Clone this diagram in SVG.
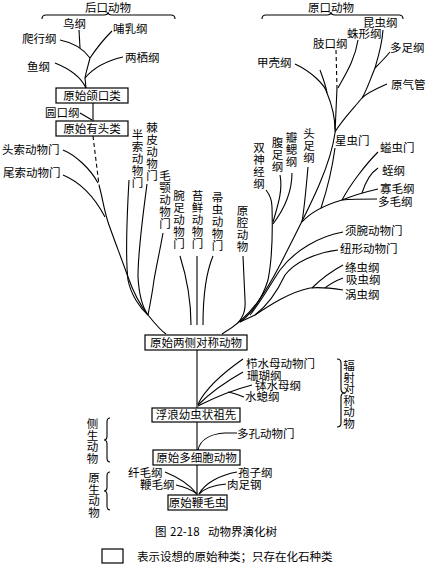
<svg xmlns="http://www.w3.org/2000/svg" width="434" height="566" viewBox="0 0 434 566">
<style>
.l{fill:none;stroke:#000;stroke-width:1.1}
.d{fill:none;stroke:#000;stroke-width:1.1;stroke-dasharray:4 3}
.t{font-family:"Noto Sans CJK SC","Noto Sans",sans-serif;font-size:11.5px;fill:#000}
.m{text-anchor:middle}
.b{fill:#fff;stroke:#000;stroke-width:1.2}
</style>
<rect width="434" height="566" fill="#fff"/>
<g id="connectors">
<path class="l" d="M42,19 Q42,15 46,15 L104,15 Q108,15 108,12 Q108,15 112,15 L171,15 Q175,15 175,19"/>
<path class="l" d="M262,19 Q262,15 266,15 L327,15 Q331,15 331,12 Q331,15 335,15 L399,15 Q403,15 403,19"/>
<path class="l" d="M337,359 Q341,359 341,363 L341,389 Q341,393 345,393 Q341,393 341,397 L341,423 Q341,427 337,427"/>
<path class="l" d="M110,418 Q107,418 107,422 L107,436 Q107,440 104,440 Q107,440 107,444 L107,458 Q107,462 110,462"/>
<path class="l" d="M110,472 Q107,472 107,476 L107,487 Q107,491 104,491 Q107,491 107,495 L107,506 Q107,510 110,510"/>
<path class="l" d="M79,30 L80,48"/>
<path class="l" d="M60,40 Q80,44 90,58"/>
<path class="l" d="M112,31 C105,38 98,46 90,58"/>
<path class="l" d="M90,58 C88,66 86,72 85,78 L86,88"/>
<path class="l" d="M123,57 C110,60 95,66 85,78"/>
<path class="l" d="M55,63 C65,67 80,75 86,88"/>
<path class="l" d="M93,103 L93,121"/>
<path class="l" d="M80,113 L92,120"/>
<path class="d" d="M93,136 L99,185"/>
<path class="l" d="M63,150 C75,155 90,168 98,183"/>
<path class="l" d="M63,175 C80,182 95,198 105,217"/>
<path class="l" d="M99,185 C103,200 104,210 108,222 S122,260 128,277 S140,305 148,315 S160,330 166,334"/>
<path class="l" d="M129,180 C127,215 125,255 128,280 C131,295 140,308 148,315"/>
<path class="l" d="M147,184 C143,215 138,250 138,277 C139,295 143,308 148,315"/>
<path class="l" d="M163,233 C160,250 156,268 154,280 C152,295 150,305 148,315"/>
<path class="l" d="M180,256 C186,275 191,300 191,325"/>
<path class="l" d="M197,256 L197,325"/>
<path class="l" d="M213,256 C205,275 203,300 203,325"/>
<path class="l" d="M383,30 C382,45 378,58 375,68"/>
<path class="l" d="M390,52 C385,58 380,63 375,68"/>
<path class="l" d="M375,68 C370,80 366,92 362,98 C352,110 342,120 335,132"/>
<path class="l" d="M387,84 C378,88 368,92 362,98"/>
<path class="l" d="M358,40 C355,60 345,75 338,88"/>
<path class="d" d="M336,50 L337,88"/>
<path class="l" d="M337,88 L335,133"/>
<path class="l" d="M295,64 C312,72 325,85 327,93 C332,105 335,118 335,130"/>
<path class="l" d="M320,70 C323,78 326,86 327,93"/>
<path class="l" d="M335,133 C330,170 305,215 285,255 S250,318 222,334"/>
<path class="l" d="M266,190 C270,195 272,200 272,207 C273,240 272,260 268,280 C262,300 250,315 240,322"/>
<path class="l" d="M280,175 C283,190 278,205 273,222"/>
<path class="l" d="M292,173 C292,195 282,212 273,224"/>
<path class="l" d="M308,167 C306,190 304,210 302,222"/>
<path class="l" d="M335,148 C332,170 327,190 321,208"/>
<path class="l" d="M378,152 C365,165 350,185 342,200"/>
<path class="l" d="M378,168 C372,172 366,180 362,193"/>
<path class="l" d="M378,189 C365,192 352,196 342,200"/>
<path class="l" d="M377,199 C365,199 352,199 342,200"/>
<path class="l" d="M342,200 C325,205 310,213 302,222"/>
<path class="l" d="M343,232 C320,236 295,250 280,270 C270,285 262,300 250,315"/>
<path class="l" d="M338,250 C315,253 295,262 285,275 C278,290 268,305 255,315"/>
<path class="l" d="M343,265 C330,272 320,280 312,288"/>
<path class="l" d="M343,278 C335,281 330,284 325,288"/>
<path class="l" d="M343,290 C330,288 320,287 310,288 C290,292 270,305 255,315 L240,322"/>
<path class="l" d="M243,256 L245,300 C246,312 242,318 238,323"/>
<path class="l" d="M197,350 L197,408"/>
<path class="l" d="M198,404 C205,390 220,375 243,359"/>
<path class="l" d="M198,405 C208,395 220,385 243,372"/>
<path class="l" d="M198,406 C210,400 225,392 252,385"/>
<path class="l" d="M228,392 C234,393 239,395 244,397"/>
<path class="l" d="M197,422 L197,450"/>
<path class="l" d="M198,450 C200,440 210,434 225,433 L237,433"/>
<path class="l" d="M197,465 L197,495"/>
<path class="l" d="M165,472 C180,478 190,485 197,494"/>
<path class="l" d="M176,485 C185,487 192,490 197,494"/>
<path class="l" d="M237,472 C220,475 205,483 199,494"/>
<path class="l" d="M226,484 C215,485 205,488 199,494"/>
</g>
<g id="n-deut"><text class="t m" x="108" y="12">后口动物</text></g>
<g id="n-niao"><text class="t" x="63" y="28">鸟纲</text></g>
<g id="n-buru"><text class="t" x="113" y="33">哺乳纲</text></g>
<g id="n-paxing"><text class="t" x="22" y="43">爬行纲</text></g>
<g id="n-liangqi"><text class="t" x="125" y="62">两栖纲</text></g>
<g id="n-yu"><text class="t" x="27" y="71">鱼纲</text></g>
<g id="n-hekou"><rect class="b" x="56" y="88" width="72" height="15"/><text class="t m" x="92" y="100">原始颌口类</text></g>
<g id="n-yuankou"><text class="t" x="45" y="117">圆口纲</text></g>
<g id="n-youtou"><rect class="b" x="56" y="121" width="72" height="15"/><text class="t m" x="92" y="133">原始有头类</text></g>
<g id="n-tousuo"><text class="t" x="2" y="154">头索动物门</text></g>
<g id="n-weisuo"><text class="t" x="3" y="177">尾索动物门</text></g>
<g id="n-bansuo"><text class="t m" x="137.5" y="139">半<tspan x="137.5" dy="12">索</tspan><tspan x="137.5" dy="12">动</tspan><tspan x="137.5" dy="12">物</tspan><tspan x="137.5" dy="12">门</tspan></text></g>
<g id="n-jipi"><text class="t m" x="152" y="132">棘<tspan x="152" dy="12">皮</tspan><tspan x="152" dy="12">动</tspan><tspan x="152" dy="12">物</tspan><tspan x="152" dy="12">门</tspan></text></g>
<g id="n-maoe"><text class="t m" x="165" y="180">毛<tspan x="165" dy="12">颚</tspan><tspan x="165" dy="12">动</tspan><tspan x="165" dy="12">物</tspan><tspan x="165" dy="12">门</tspan></text></g>
<g id="n-wanzu"><text class="t m" x="179" y="200">腕<tspan x="179" dy="12">足</tspan><tspan x="179" dy="12">动</tspan><tspan x="179" dy="12">物</tspan><tspan x="179" dy="12">门</tspan></text></g>
<g id="n-taixian"><text class="t m" x="197.5" y="200">苔<tspan x="197.5" dy="12">鲜</tspan><tspan x="197.5" dy="12">动</tspan><tspan x="197.5" dy="12">物</tspan><tspan x="197.5" dy="12">门</tspan></text></g>
<g id="n-zhouchong"><text class="t m" x="217.5" y="202">帚<tspan x="217.5" dy="12">虫</tspan><tspan x="217.5" dy="12">动</tspan><tspan x="217.5" dy="12">物</tspan><tspan x="217.5" dy="12">门</tspan></text></g>
<g id="n-yuanqiang"><text class="t m" x="242.5" y="215">原<tspan x="242.5" dy="12">腔</tspan><tspan x="242.5" dy="12">动</tspan><tspan x="242.5" dy="12">物</tspan></text></g>
<g id="n-prot"><text class="t m" x="331" y="12">原口动物</text></g>
<g id="n-kunchong"><text class="t" x="363" y="27">昆虫纲</text></g>
<g id="n-zhuxing"><text class="t" x="347" y="38">蛛形纲</text></g>
<g id="n-zhikou"><text class="t" x="313" y="48">肢口纲</text></g>
<g id="n-duozu"><text class="t" x="390" y="52">多足纲</text></g>
<g id="n-jiaqiao"><text class="t" x="257" y="67">甲壳纲</text></g>
<g id="n-yuanqiguan"><text class="t" x="391" y="89">原气管</text></g>
<g id="n-xingchong"><text class="t" x="335" y="145">星虫门</text></g>
<g id="n-yichong"><text class="t" x="380" y="152">螠虫门</text></g>
<g id="n-zhi"><text class="t" x="382" y="175">蛭纲</text></g>
<g id="n-guamao"><text class="t" x="380" y="193">寡毛纲</text></g>
<g id="n-duomao"><text class="t" x="378" y="206">多毛纲</text></g>
<g id="n-shuangshenjing"><text class="t m" x="259" y="152">双<tspan x="259" dy="12">神</tspan><tspan x="259" dy="12">经</tspan><tspan x="259" dy="12">纲</tspan></text></g>
<g id="n-fuzu"><text class="t m" x="277.5" y="147">腹<tspan x="277.5" dy="12">足</tspan><tspan x="277.5" dy="12">纲</tspan></text></g>
<g id="n-bansai"><text class="t m" x="291.5" y="142">瓣<tspan x="291.5" dy="12">鳃</tspan><tspan x="291.5" dy="12">纲</tspan></text></g>
<g id="n-touzu"><text class="t m" x="309" y="138">头<tspan x="309" dy="12">足</tspan><tspan x="309" dy="12">纲</tspan></text></g>
<g id="n-xuwan"><text class="t" x="345" y="235">须腕动物门</text></g>
<g id="n-niuxing"><text class="t" x="340" y="253">纽形动物门</text></g>
<g id="n-taochong"><text class="t" x="345" y="272">绦虫纲</text></g>
<g id="n-xichong"><text class="t" x="346" y="284">吸虫纲</text></g>
<g id="n-wochong"><text class="t" x="345" y="299">涡虫纲</text></g>
<g id="n-liangce"><rect class="b" x="145" y="335" width="102" height="15"/><text class="t m" x="196" y="347">原始两侧对称动物</text></g>
<g id="n-zhishuimu"><text class="t" x="246" y="368">栉水母动物门</text></g>
<g id="n-shanhu"><text class="t" x="247" y="380">珊瑚纲</text></g>
<g id="n-boshuimu"><text class="t" x="255" y="390">钵水母纲</text></g>
<g id="n-shuixi"><text class="t" x="245" y="401">水螅纲</text></g>
<g id="n-fushe"><text class="t m" x="349" y="370">辐<tspan x="349" dy="11.6">射</tspan><tspan x="349" dy="11.6">对</tspan><tspan x="349" dy="11.6">称</tspan><tspan x="349" dy="11.6">动</tspan><tspan x="349" dy="11.6">物</tspan></text></g>
<g id="n-fulang"><rect class="b" x="152" y="408" width="88" height="14"/><text class="t m" x="196" y="419">浮浪幼虫状祖先</text></g>
<g id="n-duokong"><text class="t" x="237" y="438">多孔动物门</text></g>
<g id="n-cesheng"><text class="t m" x="92.5" y="428">侧<tspan x="92.5" dy="11.7">生</tspan><tspan x="92.5" dy="11.7">动</tspan><tspan x="92.5" dy="11.7">物</tspan></text></g>
<g id="n-duoxibao"><rect class="b" x="153" y="450" width="87" height="15"/><text class="t m" x="196.5" y="462">原始多细胞动物</text></g>
<g id="n-yuansheng"><text class="t m" x="94" y="482">原<tspan x="94" dy="11.7">生</tspan><tspan x="94" dy="11.7">动</tspan><tspan x="94" dy="11.7">物</tspan></text></g>
<g id="n-xianmao"><text class="t" x="128" y="477">纤毛纲</text></g>
<g id="n-bianmao"><text class="t" x="140" y="489">鞭毛纲</text></g>
<g id="n-baozi"><text class="t" x="238" y="477">孢子纲</text></g>
<g id="n-rouzu"><text class="t" x="227" y="489">肉足钢</text></g>
<g id="n-bianmaochong"><rect class="b" x="168" y="495" width="59" height="15"/><text class="t m" x="197.5" y="507">原始鞭毛虫</text></g>
<g id="caption"><text class="t" x="155" y="536">图<tspan x="170">22-18</tspan><tspan x="208">动物界演化树</tspan></text></g>
<g id="legend"><rect class="b" x="102" y="549" width="21" height="14"/><text class="t" x="137" y="561">表示设想的原始种类；只存在化石种类</text></g>
</svg>
